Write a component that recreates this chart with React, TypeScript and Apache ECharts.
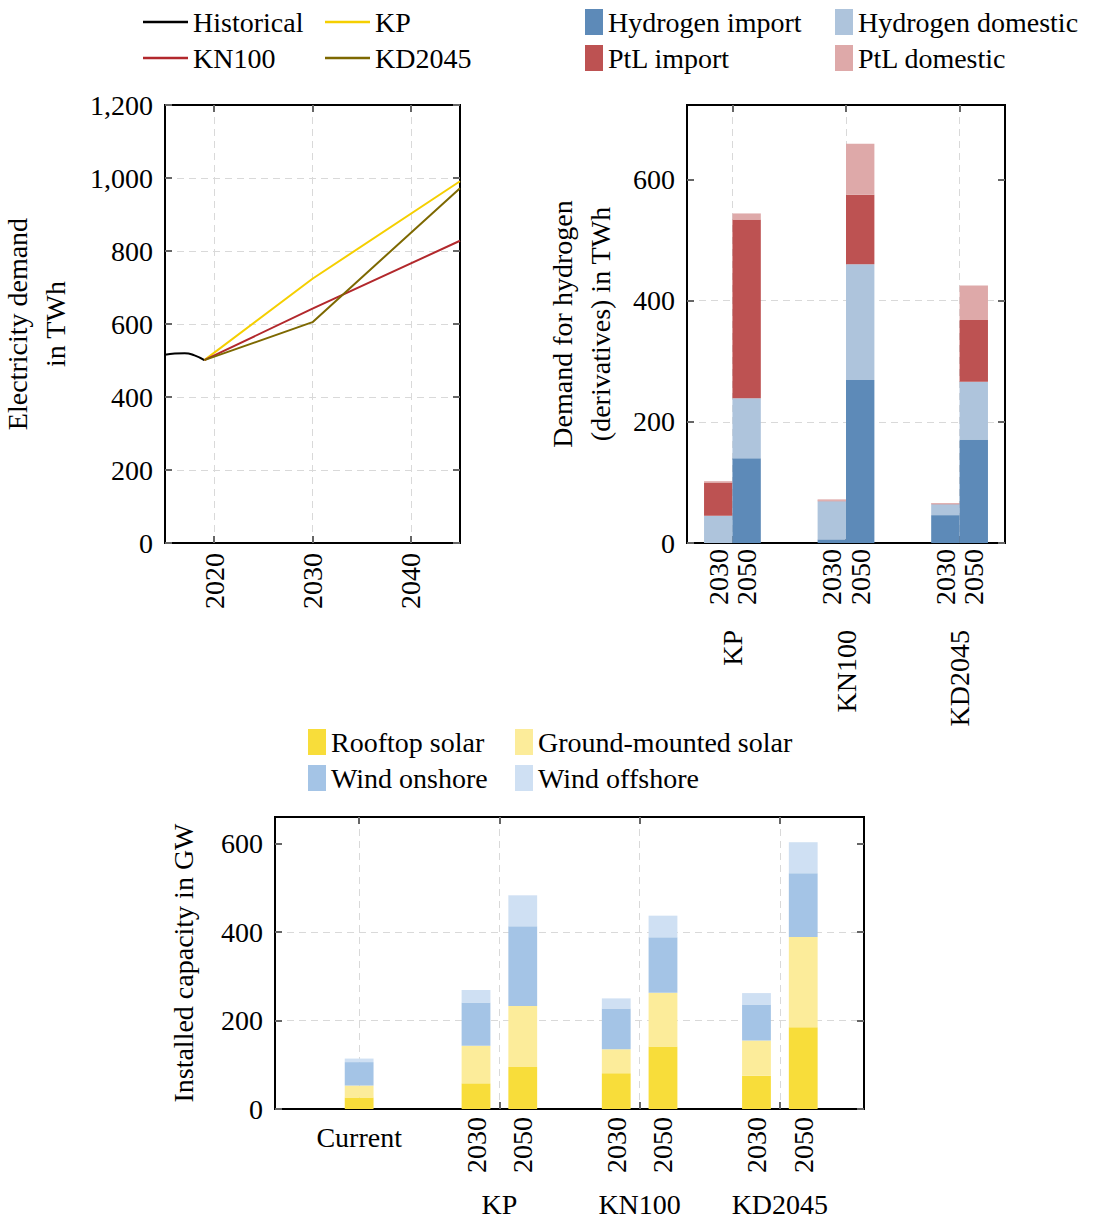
import React, { useEffect, useRef } from 'react';
import * as echarts from 'echarts';

const FONT = '"Liberation Serif", "DejaVu Serif", serif';
const FS = 28;

// ---------- Panel 1: electricity demand (TWh) ----------
const elecNames = ['Historical', 'KP', 'KN100', 'KD2045'];
const historicalYears = [2015, 2016, 2017, 2018, 2019];
const historicalValues = [516, 519, 520, 514, 501];
const scenarioYears = [2019, 2030, 2045];
const kpValues = [501, 724, 991];
const kn100Values = [501, 642, 828];
const kd2045Values = [501, 605, 972];
const elecXRange = [2015, 2045];
const elecXTicks = [2020, 2030, 2040];
const elecYTicks = [0, 200, 400, 600, 800, 1000, 1200];

// ---------- Panel 2: hydrogen demand (TWh) ----------
const h2Groups = ['KP', 'KN100', 'KD2045'];
const h2Years = ['2030', '2050'];
const h2Names = ['Hydrogen import', 'Hydrogen domestic', 'PtL import', 'PtL domestic'];
const h2Import2030 = [0, 6, 46];
const h2Domestic2030 = [45, 63, 18];
const ptlImport2030 = [54, 1, 1];
const ptlDomestic2030 = [3, 2, 1];
const h2Import2050 = [140, 269, 171];
const h2Domestic2050 = [99, 191, 95];
const ptlImport2050 = [295, 115, 102];
const ptlDomestic2050 = [10, 84, 57];
const h2YTicks = [0, 200, 400, 600];
const h2YMax = 723;

// ---------- Panel 3: installed capacity (GW) ----------
const capGroups = ['Current', 'KP', 'KN100', 'KD2045'];
const capYears = ['2030', '2050'];
const capNames = ['Rooftop solar', 'Ground-mounted solar', 'Wind onshore', 'Wind offshore'];
const capCurrent = [26, 27, 53, 8];
const rooftop2030 = [58, 81, 75];
const ground2030 = [85, 54, 80];
const onshore2030 = [98, 92, 81];
const offshore2030 = [28, 23, 26];
const rooftop2050 = [95, 141, 185];
const ground2050 = [138, 122, 204];
const onshore2050 = [180, 125, 144];
const offshore2050 = [70, 49, 70];
const capYTicks = [0, 200, 400, 600];
const capYMax = 660;

// ---------- styles ----------
const elecColors = ['#000000', '#f5cf00', '#b2282c', '#7d6800'];
const h2Colors = ['#5d8ab8', '#aec4dc', '#bd5252', '#dea9a9'];
const capColors = ['#f8dd3a', '#fcec9a', '#a4c4e6', '#cfe0f3'];

const P1 = { left: 165, top: 105, width: 295, height: 438 };
const P1_PER_YEAR = P1.width / (elecXRange[1] - elecXRange[0]);
const P2 = { left: 687, top: 105, width: 318, height: 438 };
const P2_SPACING = P2.width / 2.8;
const P2_FIRST = P2.left + 0.4 * P2_SPACING;
const P2_BAR = P2_SPACING / 4;
const P3 = { left: 275, top: 817, width: 589, height: 292 };
const P3_SPACING = P3.width / 4.2;
const P3_FIRST = P3.left + 0.6 * P3_SPACING;
const P3_STEP = P3_SPACING / 3;
const P3_BAR = 28.8;

const textBase = { fontFamily: FONT, fontSize: FS, color: '#000' };
const TICK_LINE = { color: '#666', width: 2 };
const GRID_LINE = { color: '#d9d9d9', width: 1, type: [7, 5] };
const tick = (customValues?: number[]) => {
  const t: any = { show: true, inside: true, length: 7, lineStyle: TICK_LINE };
  if (customValues) t.customValues = customValues;
  return t;
};
const catTick = { show: true, inside: true, length: 7, interval: 0, lineStyle: TICK_LINE };
const split = { show: true, showMinLine: false, showMaxLine: false, lineStyle: GRID_LINE };
const catSplit = { show: true, interval: 0, showMinLine: true, showMaxLine: true, lineStyle: GRID_LINE };
const off = { show: false };
const frame = { show: true, borderColor: '#000', borderWidth: 2, backgroundColor: 'rgba(0,0,0,0)', containLabel: false, outerBoundsMode: 'none' };
const plain = { show: false, containLabel: false, outerBoundsMode: 'none' };

function yearLabels(groups: string[], years: string[], blanks: number) {
  const out: string[] = [];
  groups.forEach((g, i) => {
    years.forEach((y) => out.push(g + '|' + y));
    if (i < groups.length - 1) for (let b = 0; b < blanks; b++) out.push('gap' + i + '_' + b);
  });
  return out;
}
const yearFmt = (v: string) => (v.indexOf('|') >= 0 ? v.split('|')[1] : '');

function buildOption() {
  const h2YearCats = yearLabels(h2Groups, h2Years, 2);
  const capYearCats = yearLabels(capGroups.slice(1), capYears, 1);
  const elecTickCats = elecXTicks.map(String);

  const grid = [
    { ...frame, ...P1 },
    { ...frame, ...P2 },
    { ...plain, left: P2_FIRST, top: P2.top, width: (h2Groups.length - 1) * P2_SPACING, height: P2.height },
    { ...plain, left: P2_FIRST - P2_BAR / 2, top: P2.top, width: (h2YearCats.length - 1) * P2_BAR, height: P2.height },
    { ...frame, ...P3 },
    { ...plain, left: P3_FIRST, top: P3.top, width: (capGroups.length - 1) * P3_SPACING, height: P3.height },
    { ...plain, left: P3_FIRST + P3_SPACING - P3_STEP / 2, top: P3.top, width: (capYearCats.length - 1) * P3_STEP, height: P3.height },
    {
      ...plain,
      left: P1.left + (elecXTicks[0] - elecXRange[0]) * P1_PER_YEAR,
      top: P1.top,
      width: (elecXTicks[elecXTicks.length - 1] - elecXTicks[0]) * P1_PER_YEAR,
      height: P1.height,
    },
  ];

  const xAxis: any[] = [
    // 0: panel 1 data axis (hidden)
    { gridIndex: 0, type: 'value', min: elecXRange[0], max: elecXRange[1], show: false },
    // 1: placeholder (hidden)
    { gridIndex: 0, type: 'value', min: elecXRange[0], max: elecXRange[1], show: false },
    // 2: panel 2 frame (hidden)
    { gridIndex: 1, type: 'value', show: false, min: 0, max: 1 },
    // 3: panel 2 bars / group labels
    {
      gridIndex: 2, type: 'category', data: h2Groups, boundaryGap: false, position: 'bottom',
      axisLine: off, axisTick: catTick,
      axisLabel: { ...textBase, rotate: 90, margin: 87, interval: 0 },
      splitLine: catSplit,
    },
    // 4: panel 2 top ticks
    {
      gridIndex: 2, type: 'category', data: h2Groups, boundaryGap: false, position: 'top',
      axisLine: off, axisTick: catTick, axisLabel: off, splitLine: off,
    },
    // 5: panel 2 year labels
    {
      gridIndex: 3, type: 'category', data: h2YearCats, boundaryGap: false, position: 'bottom',
      axisLine: off, axisTick: off, splitLine: off,
      axisLabel: { ...textBase, rotate: 90, margin: 6, interval: 0, formatter: yearFmt },
    },
    // 6: panel 3 frame (hidden)
    { gridIndex: 4, type: 'value', show: false, min: 0, max: 1 },
    // 7: panel 3 bars / scenario labels
    {
      gridIndex: 5, type: 'category', data: capGroups, boundaryGap: false, position: 'bottom',
      axisLine: off, axisTick: catTick,
      axisLabel: { ...textBase, lineHeight: 28, margin: 81, interval: 0, formatter: (v: string) => (v === capGroups[0] ? '' : v) },
      splitLine: catSplit,
    },
    // 8: panel 3 top ticks
    {
      gridIndex: 5, type: 'category', data: capGroups, boundaryGap: false, position: 'top',
      axisLine: off, axisTick: catTick, axisLabel: off, splitLine: off,
    },
    // 9: panel 3 "Current" axis
    {
      gridIndex: 5, type: 'category', data: capGroups, boundaryGap: false, position: 'bottom',
      axisLine: off, axisTick: off, splitLine: off,
      axisLabel: { ...textBase, margin: 14, interval: 0, formatter: (v: string) => (v === capGroups[0] ? v : '') },
    },
    // 10: panel 3 year labels
    {
      gridIndex: 6, type: 'category', data: capYearCats, boundaryGap: false, position: 'bottom',
      axisLine: off, axisTick: off, splitLine: off,
      axisLabel: { ...textBase, rotate: 90, margin: 8, interval: 0, formatter: yearFmt },
    },
    // 11: panel 1 year ticks / labels / grid lines
    {
      gridIndex: 7, type: 'category', data: elecTickCats, boundaryGap: false, position: 'bottom',
      axisLine: off, axisTick: catTick,
      axisLabel: { ...textBase, rotate: 90, margin: 10, interval: 0 },
      splitLine: catSplit,
    },
    // 12: panel 1 top ticks
    {
      gridIndex: 7, type: 'category', data: elecTickCats, boundaryGap: false, position: 'top',
      axisLine: off, axisTick: catTick, axisLabel: off, splitLine: off,
    },
  ];

  const nameStyle = { ...textBase, lineHeight: 38 };
  const yAxis: any[] = [
    // 0: panel 1 left
    {
      gridIndex: 0, type: 'value', min: elecYTicks[0], max: elecYTicks[elecYTicks.length - 1], interval: elecYTicks[1] - elecYTicks[0],
      axisLine: off, axisTick: tick(),
      axisLabel: { ...textBase, margin: 12, formatter: (v: number) => v.toLocaleString('en-US') },
      splitLine: split,
      name: 'Electricity demand\nin TWh', nameLocation: 'middle', nameRotate: 90, nameGap: 91, nameTextStyle: nameStyle,
    },
    // 1: panel 1 right
    {
      gridIndex: 0, type: 'value', position: 'right', min: elecYTicks[0], max: elecYTicks[elecYTicks.length - 1], interval: elecYTicks[1] - elecYTicks[0],
      axisLine: off, axisTick: tick(), axisLabel: off, splitLine: off,
    },
    // 2: panel 2 left
    {
      gridIndex: 1, type: 'value', min: 0, max: h2YMax, interval: h2YTicks[1] - h2YTicks[0],
      axisLine: off, axisTick: tick(h2YTicks),
      axisLabel: { ...textBase, margin: 12, customValues: h2YTicks },
      splitLine: split,
      name: 'Demand for hydrogen\n(derivatives) in TWh', nameLocation: 'middle', nameRotate: 90, nameGap: 68, nameTextStyle: nameStyle,
    },
    // 3: panel 2 right
    {
      gridIndex: 1, type: 'value', position: 'right', min: 0, max: h2YMax, interval: h2YTicks[1] - h2YTicks[0],
      axisLine: off, axisTick: tick(h2YTicks), axisLabel: off, splitLine: off,
    },
    // 4: panel 2 bars (hidden)
    { gridIndex: 2, type: 'value', show: false, min: 0, max: h2YMax },
    // 5: panel 2 year labels (hidden)
    { gridIndex: 3, type: 'value', show: false, min: 0, max: 1 },
    // 6: panel 3 left
    {
      gridIndex: 4, type: 'value', min: 0, max: capYMax, interval: capYTicks[1] - capYTicks[0],
      axisLine: off, axisTick: tick(capYTicks),
      axisLabel: { ...textBase, margin: 12, customValues: capYTicks },
      splitLine: split,
      name: 'Installed capacity in GW', nameLocation: 'middle', nameRotate: 90, nameGap: 73, nameTextStyle: nameStyle,
    },
    // 7: panel 3 right
    {
      gridIndex: 4, type: 'value', position: 'right', min: 0, max: capYMax, interval: capYTicks[1] - capYTicks[0],
      axisLine: off, axisTick: tick(capYTicks), axisLabel: off, splitLine: off,
    },
    // 8: panel 3 bars (hidden)
    { gridIndex: 5, type: 'value', show: false, min: 0, max: capYMax },
    // 9: panel 3 year labels (hidden)
    { gridIndex: 6, type: 'value', show: false, min: 0, max: 1 },
    // 10: panel 1 tick grid (hidden)
    { gridIndex: 7, type: 'value', show: false, min: 0, max: 1 },
  ];

  const series: any[] = [];

  // Panel 1 lines
  const lineSets = [
    { years: historicalYears, values: historicalValues, smooth: true },
    { years: scenarioYears, values: kpValues, smooth: false },
    { years: scenarioYears, values: kn100Values, smooth: false },
    { years: scenarioYears, values: kd2045Values, smooth: false },
  ];
  lineSets.forEach((s, i) => {
    series.push({
      type: 'line', name: elecNames[i], xAxisIndex: 0, yAxisIndex: 0,
      data: s.years.map((y, j) => [y, s.values[j]]),
      smooth: s.smooth, symbol: 'none', showSymbol: false,
      lineStyle: { color: elecColors[i], width: 2 }, itemStyle: { color: elecColors[i] }, z: 3,
    });
  });

  // Panel 2 bars
  const h2Sets = [
    [h2Import2030, h2Domestic2030, ptlImport2030, ptlDomestic2030],
    [h2Import2050, h2Domestic2050, ptlImport2050, ptlDomestic2050],
  ];
  h2Sets.forEach((set, yi) => {
    set.forEach((vals, k) => {
      series.push({
        type: 'bar', name: h2Names[k], xAxisIndex: 3, yAxisIndex: 4, stack: 'h2_' + h2Years[yi],
        data: vals, barWidth: P2_BAR, barGap: '0%', clip: false,
        itemStyle: { color: h2Colors[k] },
      });
    });
  });

  // Panel 3 bars
  const capSets = [
    [rooftop2030, ground2030, onshore2030, offshore2030],
    [rooftop2050, ground2050, onshore2050, offshore2050],
  ];
  const capGap = ((P3_STEP - P3_BAR) / P3_BAR) * 100 + '%';
  capSets.forEach((set, yi) => {
    set.forEach((vals, k) => {
      series.push({
        type: 'bar', name: capNames[k], xAxisIndex: 7, yAxisIndex: 8, stack: 'cap_' + capYears[yi],
        data: ['-', ...vals], barWidth: P3_BAR, barGap: capGap, clip: false,
        itemStyle: { color: capColors[k] },
      });
    });
  });
  capCurrent.forEach((v, k) => {
    series.push({
      type: 'bar', name: capNames[k], xAxisIndex: 9, yAxisIndex: 8, stack: 'cap_current',
      data: [v, '-', '-', '-'], barWidth: P3_BAR, clip: false,
      itemStyle: { color: capColors[k] },
    });
  });

  const legendBase = {
    orient: 'vertical', itemGap: 6, padding: 0, selectedMode: false,
    textStyle: { ...textBase, lineHeight: 30 },
  };
  const lineLegend = { ...legendBase, itemWidth: 45, itemHeight: 2.5, icon: 'rect' };
  const barLegend = { ...legendBase, itemWidth: 18, itemHeight: 26, icon: 'rect' };
  const legend = [
    { ...lineLegend, left: 143, top: 7, data: [elecNames[0], elecNames[2]] },
    { ...lineLegend, left: 325, top: 7, data: [elecNames[1], elecNames[3]] },
    { ...barLegend, left: 585, top: 7, data: [h2Names[0], h2Names[2]] },
    { ...barLegend, left: 835, top: 7, data: [h2Names[1], h2Names[3]] },
    { ...barLegend, left: 308, top: 727, data: [capNames[0], capNames[2]] },
    { ...barLegend, left: 515, top: 727, data: [capNames[1], capNames[3]] },
  ];

  return {
    animation: false,
    backgroundColor: '#fff',
    textStyle: { fontFamily: FONT },
    legend,
    grid,
    xAxis,
    yAxis,
    series,
  };
}

export default function App() {
  const ref = useRef<HTMLDivElement>(null);
  useEffect(() => {
    const chart = echarts.init(ref.current as HTMLDivElement, undefined, { renderer: 'svg', width: 1106, height: 1220 });
    chart.setOption(buildOption() as any);
    return () => chart.dispose();
  }, []);
  return <div ref={ref} style={{ position: 'absolute', left: 0, top: 0, width: 1106, height: 1220 }} />;
}
